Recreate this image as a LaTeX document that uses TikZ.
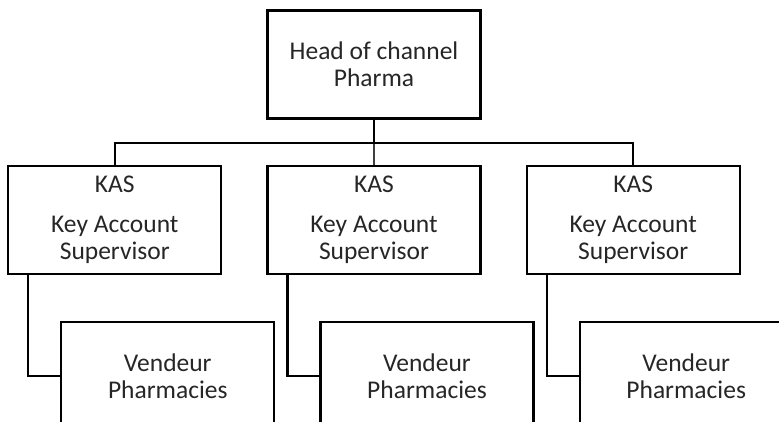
\documentclass[tikz,border=0pt]{standalone}
\usepackage{fontspec}
\setmainfont{Carlito}
\usetikzlibrary{positioning}
\tikzset{%
	every box/.style={
		rectangle,
		draw,
		line width=2.2pt,
		minimum width=213pt,
		minimum height=108pt,
		inner sep=0pt,
		align=center,
		text=black!85,
		font=\fontsize{25.5}{27}\selectfont
	},
	link/.style={
		line width=2.2pt
	},
}
\begin{document}
\begin{tikzpicture}
	\useasboundingbox (0,0) rectangle (779pt,-421pt);
	\clip (0,0) rectangle (779pt,-421pt);
	% top of the chart
	\node[every box] (head) at (374pt,-64.5pt) {Head of channel\\Pharma};
	% supervisors
	\node[every box, below=45pt of head] (kas2) {KAS\\[13pt]Key Account\\Supervisor};
	\node[every box, left=44pt of kas2] (kas1) {KAS\\[13pt]Key Account\\Supervisor};
	\node[every box, right=44pt of kas2] (kas3) {KAS\\[13pt]Key Account\\Supervisor};
	% sellers
	\node[every box, below=46pt of kas1, xshift=53pt] (ven1) {Vendeur\\Pharmacies};
	\node[every box, below=46pt of kas2, xshift=53pt] (ven2) {Vendeur\\Pharmacies};
	\node[every box, below=46pt of kas3, xshift=53pt] (ven3) {Vendeur\\Pharmacies};
	\coordinate (bar) at ([yshift=-23pt]head.south);
	\draw[link] (head) -- (bar);
	\draw[line width=1.1pt, black!75] (bar) -- (kas2);
	\draw[link] (kas1) |- (bar) -| (kas3);
	% elbows
	\draw[link] ([xshift=21pt]kas1.south west) |- (ven1.west);
	\draw[link] ([xshift=21pt]kas2.south west) |- (ven2.west);
	\draw[link] ([xshift=21pt]kas3.south west) |- (ven3.west);
\end{tikzpicture}
\end{document}
